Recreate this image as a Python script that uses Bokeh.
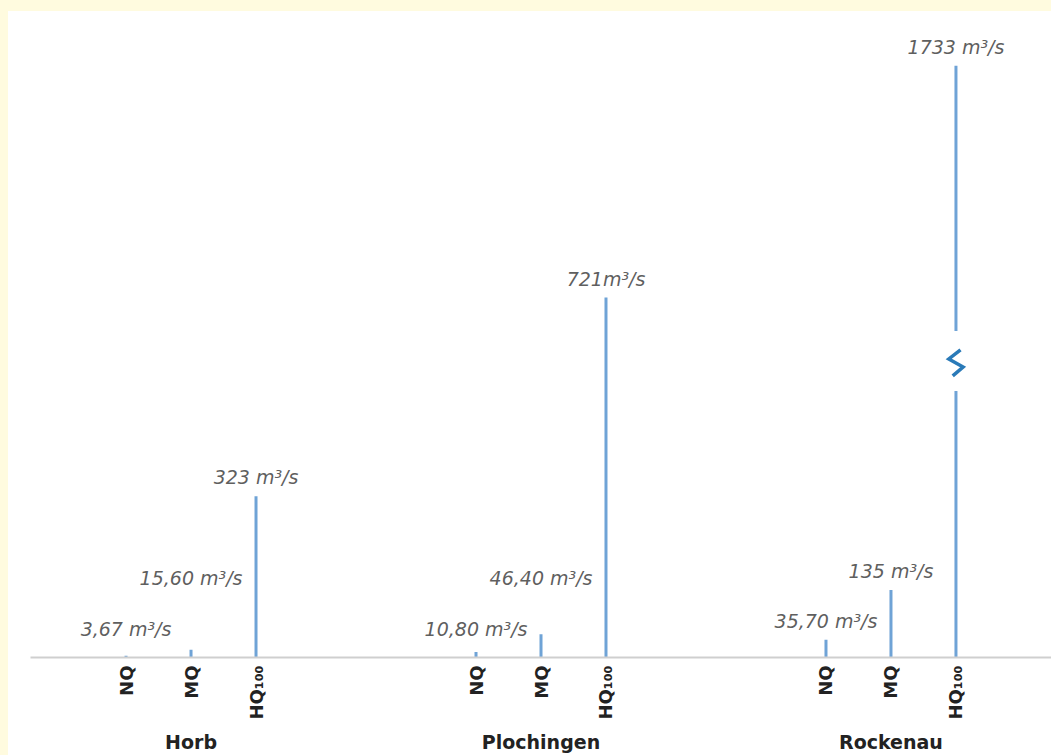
import math
from bokeh.plotting import figure
from bokeh.models import FactorRange, Range1d, ColumnDataSource
from bokeh.embed import file_html
from bokeh.resources import INLINE
from bokeh.core.properties import value

# ---- data ----
stations = ["Horb", "Plochingen", "Rockenau"]
measures = ["NQ", "MQ", "HQ₁₀₀"]
horb = [3.67, 15.60, 323]
plochingen = [10.80, 46.40, 721]
rockenau = [35.70, 135, 1733]
value_labels = ["3,67 m³/s", "15,60 m³/s", "323 m³/s",
                "10,80 m³/s", "46,40 m³/s", "721m³/s",
                "35,70 m³/s", "135 m³/s", "1733 m³/s"]

# ---- layout constants ----
BREAK_ABOVE = 1000      # bars higher than this are drawn with an axis break
BREAK_CENTER = 592      # display level of the break symbol
COMPRESS = 0.52         # compression of the part above the break
GAP_LO, GAP_HI = 58, 62
label_floor = {"NQ": 20, "MQ": 122, "HQ₁₀₀": 0}

def shown(v):
    return v if v <= BREAK_ABOVE else BREAK_CENTER + (v - BREAK_CENTER) * COMPRESS

factors = [(s, m) for s in stations for m in measures]
values = horb + plochingen + rockenau

x0, y0, x1, y1 = [], [], [], []
brk_x, brk_y = [], []
for f, v in zip(factors, values):
    top = shown(v)
    if v > BREAK_ABOVE:
        x0 += [f, f]; x1 += [f, f]
        y0 += [0, BREAK_CENTER + GAP_HI]
        y1 += [BREAK_CENTER - GAP_LO, top]
        s, m = f
        brk_x.append([(s, m, 0.07), (s, m, -0.11), (s, m, 0.11), (s, m, -0.05)])
        brk_y.append([BREAK_CENTER + 24, BREAK_CENTER + 6, BREAK_CENTER - 10, BREAK_CENTER - 28])
    else:
        x0.append(f); x1.append(f); y0.append(0); y1.append(top)

bars = ColumnDataSource(dict(x0=x0, y0=y0, x1=x1, y1=y1))
labels = ColumnDataSource(dict(
    x=factors,
    y=[max(shown(v), label_floor[f[1]]) for f, v in zip(factors, values)],
    t=value_labels))

p = figure(width=1051, height=755, output_backend="svg", toolbar_location=None,
           x_range=FactorRange(*factors, group_padding=2.385, range_padding=0.97,
                               range_padding_units="absolute"),
           y_range=Range1d(0, 1294), y_axis_location=None,
           min_border_left=22, min_border_right=8, min_border_top=0, min_border_bottom=109,
           styles={"border-top": "11px solid #fffbdf", "border-left": "8px solid #fffbdf"})
p.background_fill_color = "white"
p.border_fill_color = "white"
p.outline_line_color = None
p.xgrid.grid_line_color = None
p.ygrid.grid_line_color = None

p.segment("x0", "y0", "x1", "y1", source=bars, line_color="#6fa3d6", line_width=3)
if brk_x:
    p.multi_line(brk_x, brk_y, line_color="#2a7ab8", line_width=3.5,
                 line_join="miter")

p.text("x", "y", text="t", source=labels, text_align="center", text_baseline="bottom",
       y_offset=-8, text_font=value("DejaVu Sans"), text_font_style="italic",
       text_font_size="19px", text_color="#5f5f5f")

ax = p.xaxis[0]
ax.axis_line_color = "#cfcfcf"
ax.axis_line_width = 2
ax.major_tick_line_color = None
ax.minor_tick_line_color = None
ax.major_tick_out = 0
ax.major_tick_in = 0
ax.major_label_orientation = math.pi / 2
ax.major_label_standoff = 8
ax.major_label_text_font = "DejaVu Sans"
ax.major_label_text_font_style = "bold"
ax.major_label_text_font_size = "18px"
ax.major_label_text_color = "#222222"
ax.group_text_font = "DejaVu Sans"
ax.group_text_font_style = "bold"
ax.group_text_font_size = "19px"
ax.group_text_color = "#222222"
ax.separator_line_color = None

open("out.html", "w").write(file_html(p, INLINE))
